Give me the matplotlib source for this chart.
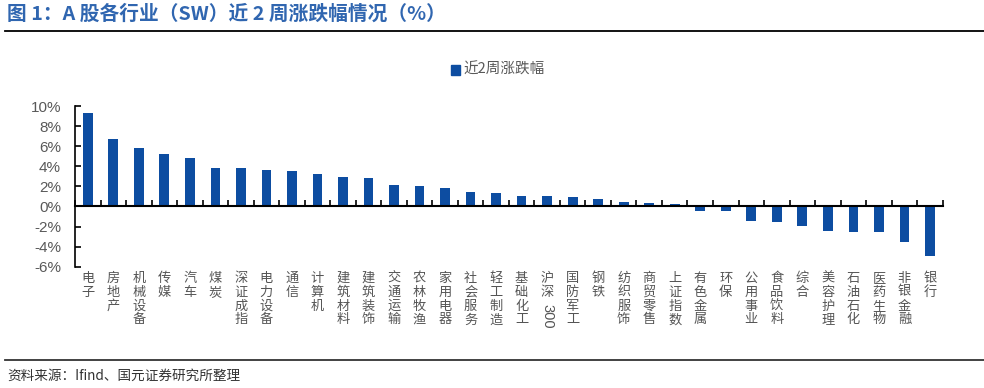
import matplotlib
matplotlib.use("Agg")
import matplotlib.pyplot as plt
import matplotlib.transforms as mtransforms
from matplotlib.patches import Rectangle
from matplotlib.lines import Line2D

plt.rcParams['font.family'] = ['Noto Sans CJK SC', 'DejaVu Sans']

categories = ["电子", "房地产", "机械设备", "传媒", "汽车", "煤炭", "深证成指", "电力设备",
              "通信", "计算机", "建筑材料", "建筑装饰", "交通运输", "农林牧渔", "家用电器",
              "社会服务", "轻工制造", "基础化工", "沪深300", "国防军工", "钢铁", "纺织服饰",
              "商贸零售", "上证指数", "有色金属", "环保", "公用事业", "食品饮料", "综合",
              "美容护理", "石油石化", "医药生物", "非银金融", "银行"]
values = [9.27, 6.74, 5.84, 5.25, 4.79, 3.85, 3.82, 3.65, 3.55, 3.22, 2.89, 2.87, 2.10,
          2.00, 1.86, 1.43, 1.33, 1.03, 1.00, 0.90, 0.70, 0.46, 0.36, 0.23, -0.47, -0.50,
          -1.47, -1.57, -1.90, -2.40, -2.50, -2.53, -3.50, -4.90]
yticks = [-6, -4, -2, 0, 2, 4, 6, 8, 10]
ytick_labels = [f"{v}%" for v in yticks]
series_name = "近2周涨跌幅"
title = "图 1：A 股各行业（SW）近 2 周涨跌幅情况（%）"
source = "资料来源：Ifind、国元证券研究所整理"

W, H = 984, 388
fig = plt.figure(figsize=(W / 100, H / 100), dpi=100)
bar_color = '#0D4DA1'
n = len(categories)

left, right, top, bottom = 75, 942.7, 106, 266.7
ax = fig.add_axes([left / W, 1 - bottom / H, (right - left) / W, (bottom - top) / H])
x = list(range(n))
ax.bar(x, values, width=0.38, color=bar_color, zorder=2)
ax.set_xlim(-0.5, n - 0.5)
ax.set_ylim(-6, 10)
ax.set_yticks(yticks)
ax.set_yticklabels(ytick_labels, fontfamily=['Liberation Sans'], fontsize=11, color='#595959')
ax.tick_params(axis='y', direction='in', length=4, width=1.2, pad=10, color='black')
ax.spines['top'].set_visible(False)
ax.spines['right'].set_visible(False)
ax.spines['left'].set_linewidth(1.2)
ax.spines['bottom'].set_position(('data', 0))
ax.spines['bottom'].set_linewidth(1.5)
ax.set_xticks([i - 0.5 for i in range(n + 1)])
ax.set_xticklabels([])
ax.tick_params(axis='x', direction='in', length=4, width=1.2, color='black')

trans = mtransforms.blended_transform_factory(ax.transData, fig.transFigure)
label_top = 1 - 272 / H
lab_color = '#555555'
for i, lab in enumerate(categories):
    if lab == "沪深300":
        ax.text(i, label_top, "沪\n深", transform=trans, ha='center', va='top',
                fontsize=9.5, linespacing=1.08, color=lab_color)
        ax.text(i, 1 - 304 / H, "300", transform=trans, ha='center', va='top',
                rotation=-90, fontsize=10.5, fontfamily=['Liberation Sans'], color=lab_color)
    else:
        ax.text(i, label_top, "\n".join(lab), transform=trans, ha='center', va='top',
                fontsize=9.5, linespacing=1.08, color=lab_color)

# legend
fig.patches.append(Rectangle((451 / W, 1 - 74.5 / H), 9 / W, 10 / H, transform=fig.transFigure,
                             color=bar_color))
fig.text(463 / W, 1 - 69.5 / H, series_name, ha='left', va='center', fontsize=10.5, color='#595959')

# title and rules
fig.text(7 / W, 1 - 14 / H, title, ha='left', va='center', fontsize=14.2, fontweight='bold',
         color='#3066B0')
fig.add_artist(Line2D([5 / W, 1], [1 - 31 / H, 1 - 31 / H], color='black', lw=1.3,
                      transform=fig.transFigure))
fig.add_artist(Line2D([5 / W, 1], [1 - 360 / H, 1 - 360 / H], color='#333333', lw=1.3,
                      transform=fig.transFigure))
fig.text(7 / W, 1 - 376 / H, source, ha='left', va='center', fontsize=9.8, color='#333333')

fig.savefig("out.png", dpi=100)
